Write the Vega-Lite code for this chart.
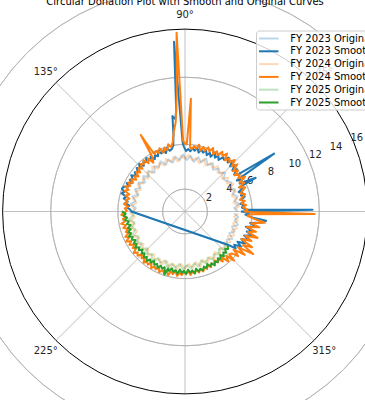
{
"$schema":"https://vega.github.io/schema/vega-lite/v6.json",
"width":365,"height":400,"autosize":{"type":"none"},"padding":0,"background":"white",
"config":{"view":{"stroke":null},"font":"DejaVu Sans",
"legend":{"orient":"none","legendX":256,"legendY":30.5,"title":null,"symbolType":"M-1.95,0H1.95","symbolSize":100,"symbolStrokeWidth":2,"symbolOffset":4.75,"labelFont":"DejaVu Sans","labelFontSize":10,"labelColor":"#000000","fillColor":"rgba(255,255,255,0.8)","strokeColor":"#cccccc","cornerRadius":3,"padding":2,"rowPadding":1.8,"labelOffset":15.5}},
"datasets":{"lines":[
{"s":"FY 2023 Original","a":0,"r":4.7},{"s":"FY 2023 Original","a":4,"r":4.4},{"s":"FY 2023 Original","a":8,"r":4.9},{"s":"FY 2023 Original","a":12,"r":4.5},{"s":"FY 2023 Original","a":16,"r":4.9},{"s":"FY 2023 Original","a":20,"r":4.5},{"s":"FY 2023 Original","a":24,"r":4.9},{"s":"FY 2023 Original","a":28,"r":4.4},{"s":"FY 2023 Original","a":32,"r":4.9},{"s":"FY 2023 Original","a":36,"r":4.6},{"s":"FY 2023 Original","a":40,"r":4.5},{"s":"FY 2023 Original","a":44,"r":5.0},{"s":"FY 2023 Original","a":48,"r":4.6},{"s":"FY 2023 Original","a":52,"r":4.9},{"s":"FY 2023 Original","a":56,"r":4.5},{"s":"FY 2023 Original","a":60,"r":5.0},{"s":"FY 2023 Original","a":64,"r":4.6},{"s":"FY 2023 Original","a":68,"r":5.1},{"s":"FY 2023 Original","a":72,"r":4.6},{"s":"FY 2023 Original","a":76,"r":5.0},{"s":"FY 2023 Original","a":80,"r":4.5},{"s":"FY 2023 Original","a":84,"r":5.0},{"s":"FY 2023 Original","a":88,"r":4.6},{"s":"FY 2023 Original","a":92,"r":5.1},{"s":"FY 2023 Original","a":96,"r":4.6},{"s":"FY 2023 Original","a":100,"r":5.0},{"s":"FY 2023 Original","a":104,"r":4.5},{"s":"FY 2023 Original","a":108,"r":4.9},{"s":"FY 2023 Original","a":112,"r":4.5},{"s":"FY 2023 Original","a":116,"r":5.0},{"s":"FY 2023 Original","a":120,"r":4.6},{"s":"FY 2023 Original","a":124,"r":4.9},{"s":"FY 2023 Original","a":128,"r":4.4},{"s":"FY 2023 Original","a":132,"r":4.9},{"s":"FY 2023 Original","a":136,"r":4.5},{"s":"FY 2023 Original","a":140,"r":4.9},{"s":"FY 2023 Original","a":144,"r":4.4},{"s":"FY 2023 Original","a":148,"r":4.9},{"s":"FY 2023 Original","a":152,"r":4.5},{"s":"FY 2023 Original","a":156,"r":4.9},{"s":"FY 2023 Original","a":160,"r":4.4},{"s":"FY 2023 Original","a":164,"r":4.9},{"s":"FY 2023 Original","a":168,"r":4.5},{"s":"FY 2023 Original","a":172,"r":4.9},{"s":"FY 2023 Original","a":176,"r":4.4},{"s":"FY 2023 Original","a":180,"r":4.7},{"s":"FY 2023 Original","a":322,"r":4.8},{"s":"FY 2023 Original","a":326,"r":4.5},{"s":"FY 2023 Original","a":330,"r":4.9},{"s":"FY 2023 Original","a":334,"r":4.4},{"s":"FY 2023 Original","a":338,"r":4.8},{"s":"FY 2023 Original","a":342,"r":4.4},{"s":"FY 2023 Original","a":346,"r":4.9},{"s":"FY 2023 Original","a":350,"r":4.5},{"s":"FY 2023 Original","a":354,"r":4.8},{"s":"FY 2023 Original","a":358,"r":4.4},
{"s":"FY 2023 Smoothed","a":0,"r":5.0},{"s":"FY 2023 Smoothed","a":0.8,"r":11.4},{"s":"FY 2023 Smoothed","a":2,"r":5.4},{"s":"FY 2023 Smoothed","a":4,"r":5.1},{"s":"FY 2023 Smoothed","a":6,"r":5.3},{"s":"FY 2023 Smoothed","a":8,"r":5.0},{"s":"FY 2023 Smoothed","a":10,"r":5.4},{"s":"FY 2023 Smoothed","a":12,"r":5.1},{"s":"FY 2023 Smoothed","a":14,"r":5.5},{"s":"FY 2023 Smoothed","a":16,"r":5.2},{"s":"FY 2023 Smoothed","a":18,"r":5.4},{"s":"FY 2023 Smoothed","a":20,"r":5.1},{"s":"FY 2023 Smoothed","a":22,"r":5.6},{"s":"FY 2023 Smoothed","a":24,"r":5.3},{"s":"FY 2023 Smoothed","a":25.5,"r":7.0},{"s":"FY 2023 Smoothed","a":27,"r":5.5},{"s":"FY 2023 Smoothed","a":29,"r":5.8},{"s":"FY 2023 Smoothed","a":31,"r":5.4},{"s":"FY 2023 Smoothed","a":33,"r":9.5},{"s":"FY 2023 Smoothed","a":35,"r":5.8},{"s":"FY 2023 Smoothed","a":37,"r":5.5},{"s":"FY 2023 Smoothed","a":39,"r":6.0},{"s":"FY 2023 Smoothed","a":41,"r":5.6},{"s":"FY 2023 Smoothed","a":43,"r":6.1},{"s":"FY 2023 Smoothed","a":45,"r":5.7},{"s":"FY 2023 Smoothed","a":47,"r":6.2},{"s":"FY 2023 Smoothed","a":49,"r":5.8},{"s":"FY 2023 Smoothed","a":51,"r":6.2},{"s":"FY 2023 Smoothed","a":53,"r":5.8},{"s":"FY 2023 Smoothed","a":55,"r":5.9},{"s":"FY 2023 Smoothed","a":57,"r":5.5},{"s":"FY 2023 Smoothed","a":59,"r":5.8},{"s":"FY 2023 Smoothed","a":61,"r":5.5},{"s":"FY 2023 Smoothed","a":63,"r":5.9},{"s":"FY 2023 Smoothed","a":65,"r":5.4},{"s":"FY 2023 Smoothed","a":67,"r":5.7},{"s":"FY 2023 Smoothed","a":69,"r":5.4},{"s":"FY 2023 Smoothed","a":71,"r":5.8},{"s":"FY 2023 Smoothed","a":73,"r":5.5},{"s":"FY 2023 Smoothed","a":75,"r":5.7},{"s":"FY 2023 Smoothed","a":77,"r":5.4},{"s":"FY 2023 Smoothed","a":79,"r":5.8},{"s":"FY 2023 Smoothed","a":81,"r":5.5},{"s":"FY 2023 Smoothed","a":83,"r":5.7},{"s":"FY 2023 Smoothed","a":85,"r":5.4},{"s":"FY 2023 Smoothed","a":87,"r":5.6},{"s":"FY 2023 Smoothed","a":89,"r":5.4},{"s":"FY 2023 Smoothed","a":91,"r":5.8},{"s":"FY 2023 Smoothed","a":92,"r":6.2},{"s":"FY 2023 Smoothed","a":93.7,"r":15.2},{"s":"FY 2023 Smoothed","a":95,"r":9.0},{"s":"FY 2023 Smoothed","a":96,"r":8.3},{"s":"FY 2023 Smoothed","a":97.5,"r":8.6},{"s":"FY 2023 Smoothed","a":98.5,"r":7.0},{"s":"FY 2023 Smoothed","a":100,"r":6.0},{"s":"FY 2023 Smoothed","a":102,"r":5.7},{"s":"FY 2023 Smoothed","a":104,"r":5.6},{"s":"FY 2023 Smoothed","a":106,"r":5.9},{"s":"FY 2023 Smoothed","a":108,"r":5.5},{"s":"FY 2023 Smoothed","a":110,"r":5.8},{"s":"FY 2023 Smoothed","a":112,"r":5.6},{"s":"FY 2023 Smoothed","a":114,"r":5.9},{"s":"FY 2023 Smoothed","a":116,"r":5.5},{"s":"FY 2023 Smoothed","a":118,"r":5.7},{"s":"FY 2023 Smoothed","a":120,"r":5.4},{"s":"FY 2023 Smoothed","a":122,"r":5.8},{"s":"FY 2023 Smoothed","a":124,"r":5.5},{"s":"FY 2023 Smoothed","a":126,"r":5.9},{"s":"FY 2023 Smoothed","a":128,"r":5.6},{"s":"FY 2023 Smoothed","a":130,"r":5.8},{"s":"FY 2023 Smoothed","a":132,"r":5.5},{"s":"FY 2023 Smoothed","a":134,"r":5.9},{"s":"FY 2023 Smoothed","a":136,"r":5.6},{"s":"FY 2023 Smoothed","a":138,"r":5.8},{"s":"FY 2023 Smoothed","a":140,"r":5.5},{"s":"FY 2023 Smoothed","a":142,"r":5.7},{"s":"FY 2023 Smoothed","a":144,"r":5.4},{"s":"FY 2023 Smoothed","a":146,"r":5.8},{"s":"FY 2023 Smoothed","a":148,"r":5.5},{"s":"FY 2023 Smoothed","a":150,"r":5.7},{"s":"FY 2023 Smoothed","a":152,"r":5.4},{"s":"FY 2023 Smoothed","a":154,"r":5.8},{"s":"FY 2023 Smoothed","a":156,"r":5.5},{"s":"FY 2023 Smoothed","a":158,"r":5.9},{"s":"FY 2023 Smoothed","a":160,"r":6.0},{"s":"FY 2023 Smoothed","a":162,"r":5.7},{"s":"FY 2023 Smoothed","a":164,"r":5.9},{"s":"FY 2023 Smoothed","a":166,"r":5.4},{"s":"FY 2023 Smoothed","a":168,"r":5.6},{"s":"FY 2023 Smoothed","a":170,"r":5.2},{"s":"FY 2023 Smoothed","a":172,"r":5.4},{"s":"FY 2023 Smoothed","a":174,"r":5.0},{"s":"FY 2023 Smoothed","a":176,"r":5.2},{"s":"FY 2023 Smoothed","a":178,"r":4.9},{"s":"FY 2023 Smoothed","a":180,"r":4.8},{"s":"FY 2023 Smoothed","a":322.3,"r":4.9},{"s":"FY 2023 Smoothed","a":324,"r":5.6},{"s":"FY 2023 Smoothed","a":326,"r":5.3},{"s":"FY 2023 Smoothed","a":328,"r":5.9},{"s":"FY 2023 Smoothed","a":330,"r":5.4},{"s":"FY 2023 Smoothed","a":332,"r":6.1},{"s":"FY 2023 Smoothed","a":334,"r":5.6},{"s":"FY 2023 Smoothed","a":336,"r":6.3},{"s":"FY 2023 Smoothed","a":338,"r":5.7},{"s":"FY 2023 Smoothed","a":340,"r":6.4},{"s":"FY 2023 Smoothed","a":342,"r":5.8},{"s":"FY 2023 Smoothed","a":344,"r":6.2},{"s":"FY 2023 Smoothed","a":346,"r":5.6},{"s":"FY 2023 Smoothed","a":348,"r":6.5},{"s":"FY 2023 Smoothed","a":350,"r":5.9},{"s":"FY 2023 Smoothed","a":352,"r":7.0},{"s":"FY 2023 Smoothed","a":353.5,"r":7.3},{"s":"FY 2023 Smoothed","a":355,"r":6.0},{"s":"FY 2023 Smoothed","a":357,"r":5.4},{"s":"FY 2023 Smoothed","a":359,"r":5.8},{"s":"FY 2023 Smoothed","a":360,"r":5.0},
{"s":"FY 2024 Original","a":2,"r":4.5},{"s":"FY 2024 Original","a":6,"r":4.9},{"s":"FY 2024 Original","a":10,"r":4.4},{"s":"FY 2024 Original","a":14,"r":4.8},{"s":"FY 2024 Original","a":18,"r":4.4},{"s":"FY 2024 Original","a":22,"r":4.9},{"s":"FY 2024 Original","a":26,"r":4.5},{"s":"FY 2024 Original","a":30,"r":5.0},{"s":"FY 2024 Original","a":34,"r":4.5},{"s":"FY 2024 Original","a":38,"r":4.9},{"s":"FY 2024 Original","a":42,"r":4.4},{"s":"FY 2024 Original","a":46,"r":4.9},{"s":"FY 2024 Original","a":50,"r":4.5},{"s":"FY 2024 Original","a":54,"r":5.0},{"s":"FY 2024 Original","a":58,"r":4.6},{"s":"FY 2024 Original","a":62,"r":4.9},{"s":"FY 2024 Original","a":66,"r":4.5},{"s":"FY 2024 Original","a":70,"r":5.0},{"s":"FY 2024 Original","a":74,"r":4.5},{"s":"FY 2024 Original","a":78,"r":4.9},{"s":"FY 2024 Original","a":82,"r":4.6},{"s":"FY 2024 Original","a":86,"r":5.1},{"s":"FY 2024 Original","a":90,"r":4.7},{"s":"FY 2024 Original","a":94,"r":5.0},{"s":"FY 2024 Original","a":98,"r":4.5},{"s":"FY 2024 Original","a":102,"r":5.0},{"s":"FY 2024 Original","a":106,"r":4.6},{"s":"FY 2024 Original","a":110,"r":5.0},{"s":"FY 2024 Original","a":114,"r":4.5},{"s":"FY 2024 Original","a":118,"r":4.9},{"s":"FY 2024 Original","a":122,"r":4.5},{"s":"FY 2024 Original","a":126,"r":5.0},{"s":"FY 2024 Original","a":130,"r":4.5},{"s":"FY 2024 Original","a":134,"r":4.9},{"s":"FY 2024 Original","a":138,"r":4.4},{"s":"FY 2024 Original","a":142,"r":4.8},{"s":"FY 2024 Original","a":146,"r":4.5},{"s":"FY 2024 Original","a":150,"r":4.9},{"s":"FY 2024 Original","a":154,"r":4.4},{"s":"FY 2024 Original","a":158,"r":4.8},{"s":"FY 2024 Original","a":162,"r":4.4},{"s":"FY 2024 Original","a":166,"r":4.8},{"s":"FY 2024 Original","a":170,"r":4.4},{"s":"FY 2024 Original","a":174,"r":4.8},{"s":"FY 2024 Original","a":178,"r":4.5},{"s":"FY 2024 Original","a":182,"r":4.9},{"s":"FY 2024 Original","a":186,"r":4.5},{"s":"FY 2024 Original","a":190,"r":5.0},{"s":"FY 2024 Original","a":194,"r":4.6},{"s":"FY 2024 Original","a":198,"r":5.1},{"s":"FY 2024 Original","a":202,"r":4.6},{"s":"FY 2024 Original","a":206,"r":5.1},{"s":"FY 2024 Original","a":210,"r":4.7},{"s":"FY 2024 Original","a":214,"r":5.2},{"s":"FY 2024 Original","a":218,"r":4.7},{"s":"FY 2024 Original","a":222,"r":5.1},{"s":"FY 2024 Original","a":226,"r":4.7},{"s":"FY 2024 Original","a":230,"r":5.2},{"s":"FY 2024 Original","a":234,"r":4.7},{"s":"FY 2024 Original","a":238,"r":5.2},{"s":"FY 2024 Original","a":242,"r":4.8},{"s":"FY 2024 Original","a":246,"r":5.2},{"s":"FY 2024 Original","a":250,"r":4.7},{"s":"FY 2024 Original","a":254,"r":5.2},{"s":"FY 2024 Original","a":258,"r":4.8},{"s":"FY 2024 Original","a":262,"r":5.2},{"s":"FY 2024 Original","a":266,"r":4.7},{"s":"FY 2024 Original","a":270,"r":5.1},{"s":"FY 2024 Original","a":274,"r":4.7},{"s":"FY 2024 Original","a":278,"r":5.1},{"s":"FY 2024 Original","a":282,"r":4.6},{"s":"FY 2024 Original","a":286,"r":5.1},{"s":"FY 2024 Original","a":290,"r":4.6},{"s":"FY 2024 Original","a":294,"r":5.0},{"s":"FY 2024 Original","a":298,"r":4.6},{"s":"FY 2024 Original","a":302,"r":5.0},{"s":"FY 2024 Original","a":306,"r":4.5},{"s":"FY 2024 Original","a":310,"r":4.9},{"s":"FY 2024 Original","a":314,"r":4.5},{"s":"FY 2024 Original","a":318,"r":4.9},{"s":"FY 2024 Original","a":322,"r":4.5},{"s":"FY 2024 Original","a":326,"r":4.9},{"s":"FY 2024 Original","a":330,"r":4.4},{"s":"FY 2024 Original","a":334,"r":4.9},{"s":"FY 2024 Original","a":338,"r":4.5},{"s":"FY 2024 Original","a":342,"r":4.9},{"s":"FY 2024 Original","a":346,"r":4.4},{"s":"FY 2024 Original","a":350,"r":4.8},{"s":"FY 2024 Original","a":354,"r":4.4},{"s":"FY 2024 Original","a":358,"r":4.8},
{"s":"FY 2024 Smoothed","a":0,"r":5.3},{"s":"FY 2024 Smoothed","a":2,"r":5.6},{"s":"FY 2024 Smoothed","a":4,"r":5.2},{"s":"FY 2024 Smoothed","a":6,"r":5.5},{"s":"FY 2024 Smoothed","a":8,"r":5.1},{"s":"FY 2024 Smoothed","a":10,"r":5.4},{"s":"FY 2024 Smoothed","a":12,"r":5.0},{"s":"FY 2024 Smoothed","a":14,"r":5.3},{"s":"FY 2024 Smoothed","a":16,"r":5.6},{"s":"FY 2024 Smoothed","a":18,"r":5.2},{"s":"FY 2024 Smoothed","a":20,"r":5.5},{"s":"FY 2024 Smoothed","a":22,"r":5.8},{"s":"FY 2024 Smoothed","a":24,"r":5.3},{"s":"FY 2024 Smoothed","a":26,"r":5.9},{"s":"FY 2024 Smoothed","a":28,"r":5.5},{"s":"FY 2024 Smoothed","a":30,"r":6.2},{"s":"FY 2024 Smoothed","a":32,"r":5.6},{"s":"FY 2024 Smoothed","a":34,"r":5.9},{"s":"FY 2024 Smoothed","a":36,"r":5.5},{"s":"FY 2024 Smoothed","a":38,"r":6.0},{"s":"FY 2024 Smoothed","a":40,"r":5.6},{"s":"FY 2024 Smoothed","a":42,"r":6.3},{"s":"FY 2024 Smoothed","a":44,"r":5.8},{"s":"FY 2024 Smoothed","a":46,"r":6.4},{"s":"FY 2024 Smoothed","a":48,"r":5.9},{"s":"FY 2024 Smoothed","a":50,"r":6.2},{"s":"FY 2024 Smoothed","a":52,"r":5.8},{"s":"FY 2024 Smoothed","a":54,"r":6.4},{"s":"FY 2024 Smoothed","a":56,"r":6.0},{"s":"FY 2024 Smoothed","a":58,"r":6.3},{"s":"FY 2024 Smoothed","a":60,"r":5.8},{"s":"FY 2024 Smoothed","a":62,"r":6.1},{"s":"FY 2024 Smoothed","a":64,"r":5.7},{"s":"FY 2024 Smoothed","a":66,"r":6.2},{"s":"FY 2024 Smoothed","a":68,"r":5.8},{"s":"FY 2024 Smoothed","a":70,"r":6.1},{"s":"FY 2024 Smoothed","a":72,"r":5.7},{"s":"FY 2024 Smoothed","a":74,"r":6.0},{"s":"FY 2024 Smoothed","a":76,"r":5.6},{"s":"FY 2024 Smoothed","a":78,"r":6.1},{"s":"FY 2024 Smoothed","a":80,"r":5.7},{"s":"FY 2024 Smoothed","a":82,"r":5.9},{"s":"FY 2024 Smoothed","a":84,"r":5.6},{"s":"FY 2024 Smoothed","a":85.5,"r":5.8},{"s":"FY 2024 Smoothed","a":87,"r":10.1},{"s":"FY 2024 Smoothed","a":88.5,"r":6.0},{"s":"FY 2024 Smoothed","a":90,"r":6.1},{"s":"FY 2024 Smoothed","a":91.5,"r":6.3},{"s":"FY 2024 Smoothed","a":92.7,"r":16.0},{"s":"FY 2024 Smoothed","a":94,"r":10.5},{"s":"FY 2024 Smoothed","a":96,"r":8.0},{"s":"FY 2024 Smoothed","a":98,"r":7.2},{"s":"FY 2024 Smoothed","a":100,"r":6.3},{"s":"FY 2024 Smoothed","a":102,"r":5.9},{"s":"FY 2024 Smoothed","a":104,"r":6.2},{"s":"FY 2024 Smoothed","a":106,"r":5.7},{"s":"FY 2024 Smoothed","a":108,"r":6.0},{"s":"FY 2024 Smoothed","a":110,"r":5.6},{"s":"FY 2024 Smoothed","a":112,"r":6.1},{"s":"FY 2024 Smoothed","a":114,"r":5.7},{"s":"FY 2024 Smoothed","a":116,"r":6.0},{"s":"FY 2024 Smoothed","a":118,"r":5.8},{"s":"FY 2024 Smoothed","a":119,"r":6.5},{"s":"FY 2024 Smoothed","a":120,"r":7.9},{"s":"FY 2024 Smoothed","a":121,"r":5.6},{"s":"FY 2024 Smoothed","a":123,"r":5.2},{"s":"FY 2024 Smoothed","a":125,"r":5.8},{"s":"FY 2024 Smoothed","a":127,"r":5.4},{"s":"FY 2024 Smoothed","a":129,"r":5.9},{"s":"FY 2024 Smoothed","a":131,"r":5.6},{"s":"FY 2024 Smoothed","a":133,"r":5.8},{"s":"FY 2024 Smoothed","a":135,"r":5.4},{"s":"FY 2024 Smoothed","a":137,"r":5.7},{"s":"FY 2024 Smoothed","a":139,"r":5.3},{"s":"FY 2024 Smoothed","a":141,"r":5.6},{"s":"FY 2024 Smoothed","a":143,"r":5.2},{"s":"FY 2024 Smoothed","a":145,"r":5.5},{"s":"FY 2024 Smoothed","a":147,"r":5.2},{"s":"FY 2024 Smoothed","a":149,"r":5.6},{"s":"FY 2024 Smoothed","a":151,"r":5.3},{"s":"FY 2024 Smoothed","a":153,"r":5.7},{"s":"FY 2024 Smoothed","a":155,"r":5.4},{"s":"FY 2024 Smoothed","a":157,"r":5.8},{"s":"FY 2024 Smoothed","a":159,"r":5.4},{"s":"FY 2024 Smoothed","a":161,"r":5.7},{"s":"FY 2024 Smoothed","a":163,"r":5.2},{"s":"FY 2024 Smoothed","a":165,"r":5.5},{"s":"FY 2024 Smoothed","a":167,"r":5.1},{"s":"FY 2024 Smoothed","a":169,"r":5.4},{"s":"FY 2024 Smoothed","a":171,"r":5.2},{"s":"FY 2024 Smoothed","a":173,"r":5.5},{"s":"FY 2024 Smoothed","a":175,"r":5.1},{"s":"FY 2024 Smoothed","a":177,"r":5.4},{"s":"FY 2024 Smoothed","a":179,"r":5.2},{"s":"FY 2024 Smoothed","a":181,"r":5.4},{"s":"FY 2024 Smoothed","a":183,"r":5.7},{"s":"FY 2024 Smoothed","a":185,"r":5.3},{"s":"FY 2024 Smoothed","a":187,"r":5.6},{"s":"FY 2024 Smoothed","a":189,"r":5.4},{"s":"FY 2024 Smoothed","a":191,"r":5.8},{"s":"FY 2024 Smoothed","a":193,"r":5.4},{"s":"FY 2024 Smoothed","a":195,"r":5.7},{"s":"FY 2024 Smoothed","a":197,"r":5.3},{"s":"FY 2024 Smoothed","a":199,"r":5.6},{"s":"FY 2024 Smoothed","a":201,"r":5.4},{"s":"FY 2024 Smoothed","a":203,"r":5.8},{"s":"FY 2024 Smoothed","a":205,"r":5.5},{"s":"FY 2024 Smoothed","a":207,"r":5.9},{"s":"FY 2024 Smoothed","a":209,"r":5.5},{"s":"FY 2024 Smoothed","a":211,"r":5.8},{"s":"FY 2024 Smoothed","a":213,"r":5.4},{"s":"FY 2024 Smoothed","a":215,"r":5.7},{"s":"FY 2024 Smoothed","a":217,"r":5.5},{"s":"FY 2024 Smoothed","a":219,"r":5.9},{"s":"FY 2024 Smoothed","a":221,"r":5.6},{"s":"FY 2024 Smoothed","a":223,"r":5.8},{"s":"FY 2024 Smoothed","a":225,"r":5.4},{"s":"FY 2024 Smoothed","a":227,"r":5.7},{"s":"FY 2024 Smoothed","a":229,"r":5.5},{"s":"FY 2024 Smoothed","a":231,"r":5.9},{"s":"FY 2024 Smoothed","a":233,"r":5.6},{"s":"FY 2024 Smoothed","a":235,"r":5.8},{"s":"FY 2024 Smoothed","a":237,"r":5.5},{"s":"FY 2024 Smoothed","a":239,"r":5.9},{"s":"FY 2024 Smoothed","a":241,"r":5.6},{"s":"FY 2024 Smoothed","a":243,"r":5.8},{"s":"FY 2024 Smoothed","a":245,"r":5.5},{"s":"FY 2024 Smoothed","a":247,"r":5.9},{"s":"FY 2024 Smoothed","a":249,"r":5.6},{"s":"FY 2024 Smoothed","a":251,"r":5.8},{"s":"FY 2024 Smoothed","a":253,"r":5.5},{"s":"FY 2024 Smoothed","a":255,"r":5.9},{"s":"FY 2024 Smoothed","a":257,"r":5.5},{"s":"FY 2024 Smoothed","a":259,"r":5.7},{"s":"FY 2024 Smoothed","a":261,"r":5.4},{"s":"FY 2024 Smoothed","a":263,"r":5.8},{"s":"FY 2024 Smoothed","a":265,"r":5.5},{"s":"FY 2024 Smoothed","a":267,"r":5.7},{"s":"FY 2024 Smoothed","a":269,"r":5.4},{"s":"FY 2024 Smoothed","a":271,"r":5.6},{"s":"FY 2024 Smoothed","a":273,"r":5.3},{"s":"FY 2024 Smoothed","a":275,"r":5.7},{"s":"FY 2024 Smoothed","a":277,"r":5.4},{"s":"FY 2024 Smoothed","a":279,"r":5.6},{"s":"FY 2024 Smoothed","a":281,"r":5.3},{"s":"FY 2024 Smoothed","a":283,"r":5.6},{"s":"FY 2024 Smoothed","a":285,"r":5.3},{"s":"FY 2024 Smoothed","a":287,"r":5.6},{"s":"FY 2024 Smoothed","a":289,"r":5.3},{"s":"FY 2024 Smoothed","a":291,"r":5.5},{"s":"FY 2024 Smoothed","a":293,"r":5.2},{"s":"FY 2024 Smoothed","a":295,"r":5.5},{"s":"FY 2024 Smoothed","a":297,"r":5.2},{"s":"FY 2024 Smoothed","a":299,"r":5.4},{"s":"FY 2024 Smoothed","a":301,"r":5.1},{"s":"FY 2024 Smoothed","a":303,"r":5.4},{"s":"FY 2024 Smoothed","a":305,"r":5.2},{"s":"FY 2024 Smoothed","a":307,"r":5.6},{"s":"FY 2024 Smoothed","a":309,"r":5.3},{"s":"FY 2024 Smoothed","a":311,"r":5.9},{"s":"FY 2024 Smoothed","a":313,"r":5.4},{"s":"FY 2024 Smoothed","a":315,"r":6.2},{"s":"FY 2024 Smoothed","a":316,"r":5.5},{"s":"FY 2024 Smoothed","a":318,"r":5.6},{"s":"FY 2024 Smoothed","a":320,"r":6.2},{"s":"FY 2024 Smoothed","a":322,"r":5.5},{"s":"FY 2024 Smoothed","a":324,"r":6.6},{"s":"FY 2024 Smoothed","a":326,"r":5.7},{"s":"FY 2024 Smoothed","a":328,"r":7.2},{"s":"FY 2024 Smoothed","a":330,"r":6.0},{"s":"FY 2024 Smoothed","a":332,"r":6.8},{"s":"FY 2024 Smoothed","a":334,"r":5.6},{"s":"FY 2024 Smoothed","a":336,"r":6.5},{"s":"FY 2024 Smoothed","a":338,"r":5.8},{"s":"FY 2024 Smoothed","a":340,"r":6.9},{"s":"FY 2024 Smoothed","a":342,"r":5.9},{"s":"FY 2024 Smoothed","a":344,"r":6.6},{"s":"FY 2024 Smoothed","a":346,"r":5.7},{"s":"FY 2024 Smoothed","a":348,"r":6.8},{"s":"FY 2024 Smoothed","a":350,"r":6.0},{"s":"FY 2024 Smoothed","a":352,"r":7.2},{"s":"FY 2024 Smoothed","a":354,"r":6.2},{"s":"FY 2024 Smoothed","a":356,"r":5.6},{"s":"FY 2024 Smoothed","a":357.5,"r":5.8},{"s":"FY 2024 Smoothed","a":358.9,"r":11.6},{"s":"FY 2024 Smoothed","a":359.5,"r":6.0},{"s":"FY 2024 Smoothed","a":360,"r":5.3},
{"s":"FY 2025 Original","a":180,"r":4.8},{"s":"FY 2025 Original","a":184,"r":4.6},{"s":"FY 2025 Original","a":188,"r":5.1},{"s":"FY 2025 Original","a":192,"r":4.6},{"s":"FY 2025 Original","a":196,"r":5.0},{"s":"FY 2025 Original","a":200,"r":4.7},{"s":"FY 2025 Original","a":204,"r":5.2},{"s":"FY 2025 Original","a":208,"r":4.7},{"s":"FY 2025 Original","a":212,"r":5.1},{"s":"FY 2025 Original","a":216,"r":4.8},{"s":"FY 2025 Original","a":220,"r":5.2},{"s":"FY 2025 Original","a":224,"r":4.7},{"s":"FY 2025 Original","a":228,"r":5.1},{"s":"FY 2025 Original","a":232,"r":4.8},{"s":"FY 2025 Original","a":236,"r":5.3},{"s":"FY 2025 Original","a":240,"r":4.8},{"s":"FY 2025 Original","a":244,"r":5.1},{"s":"FY 2025 Original","a":248,"r":4.7},{"s":"FY 2025 Original","a":252,"r":5.2},{"s":"FY 2025 Original","a":256,"r":4.8},{"s":"FY 2025 Original","a":260,"r":5.1},{"s":"FY 2025 Original","a":264,"r":4.7},{"s":"FY 2025 Original","a":268,"r":5.2},{"s":"FY 2025 Original","a":272,"r":4.8},{"s":"FY 2025 Original","a":276,"r":5.1},{"s":"FY 2025 Original","a":280,"r":4.7},{"s":"FY 2025 Original","a":284,"r":5.1},{"s":"FY 2025 Original","a":288,"r":4.6},{"s":"FY 2025 Original","a":292,"r":5.0},{"s":"FY 2025 Original","a":296,"r":4.6},{"s":"FY 2025 Original","a":300,"r":5.0},{"s":"FY 2025 Original","a":304,"r":4.6},{"s":"FY 2025 Original","a":308,"r":4.9},{"s":"FY 2025 Original","a":312,"r":4.5},{"s":"FY 2025 Original","a":316,"r":4.9},{"s":"FY 2025 Original","a":320,"r":4.6},{"s":"FY 2025 Original","a":322,"r":4.8},
{"s":"FY 2025 Smoothed","a":180,"r":5.65},{"s":"FY 2025 Smoothed","a":182,"r":5.3},{"s":"FY 2025 Smoothed","a":184,"r":5.5},{"s":"FY 2025 Smoothed","a":186,"r":5.2},{"s":"FY 2025 Smoothed","a":188,"r":5.4},{"s":"FY 2025 Smoothed","a":190,"r":5.1},{"s":"FY 2025 Smoothed","a":192,"r":5.3},{"s":"FY 2025 Smoothed","a":194,"r":5.0},{"s":"FY 2025 Smoothed","a":196,"r":5.3},{"s":"FY 2025 Smoothed","a":198,"r":5.1},{"s":"FY 2025 Smoothed","a":200,"r":5.4},{"s":"FY 2025 Smoothed","a":202,"r":5.2},{"s":"FY 2025 Smoothed","a":204,"r":5.5},{"s":"FY 2025 Smoothed","a":206,"r":5.2},{"s":"FY 2025 Smoothed","a":208,"r":5.4},{"s":"FY 2025 Smoothed","a":210,"r":5.1},{"s":"FY 2025 Smoothed","a":212,"r":5.4},{"s":"FY 2025 Smoothed","a":214,"r":5.2},{"s":"FY 2025 Smoothed","a":216,"r":5.5},{"s":"FY 2025 Smoothed","a":218,"r":5.2},{"s":"FY 2025 Smoothed","a":220,"r":5.4},{"s":"FY 2025 Smoothed","a":222,"r":5.1},{"s":"FY 2025 Smoothed","a":224,"r":5.4},{"s":"FY 2025 Smoothed","a":226,"r":5.2},{"s":"FY 2025 Smoothed","a":228,"r":5.5},{"s":"FY 2025 Smoothed","a":230,"r":5.3},{"s":"FY 2025 Smoothed","a":232,"r":5.6},{"s":"FY 2025 Smoothed","a":234,"r":5.3},{"s":"FY 2025 Smoothed","a":236,"r":5.5},{"s":"FY 2025 Smoothed","a":238,"r":5.2},{"s":"FY 2025 Smoothed","a":240,"r":5.5},{"s":"FY 2025 Smoothed","a":242,"r":5.3},{"s":"FY 2025 Smoothed","a":244,"r":5.6},{"s":"FY 2025 Smoothed","a":246,"r":5.3},{"s":"FY 2025 Smoothed","a":248,"r":5.5},{"s":"FY 2025 Smoothed","a":250,"r":5.3},{"s":"FY 2025 Smoothed","a":252,"r":5.95},{"s":"FY 2025 Smoothed","a":253.5,"r":5.3},{"s":"FY 2025 Smoothed","a":255,"r":5.5},{"s":"FY 2025 Smoothed","a":257,"r":5.2},{"s":"FY 2025 Smoothed","a":259,"r":5.5},{"s":"FY 2025 Smoothed","a":261,"r":5.3},{"s":"FY 2025 Smoothed","a":263,"r":5.6},{"s":"FY 2025 Smoothed","a":265,"r":5.2},{"s":"FY 2025 Smoothed","a":267,"r":5.5},{"s":"FY 2025 Smoothed","a":269,"r":5.3},{"s":"FY 2025 Smoothed","a":271,"r":5.6},{"s":"FY 2025 Smoothed","a":273,"r":5.2},{"s":"FY 2025 Smoothed","a":275,"r":5.5},{"s":"FY 2025 Smoothed","a":277,"r":5.3},{"s":"FY 2025 Smoothed","a":279,"r":5.6},{"s":"FY 2025 Smoothed","a":281,"r":5.2},{"s":"FY 2025 Smoothed","a":283,"r":5.5},{"s":"FY 2025 Smoothed","a":285,"r":5.3},{"s":"FY 2025 Smoothed","a":287,"r":5.5},{"s":"FY 2025 Smoothed","a":289,"r":5.2},{"s":"FY 2025 Smoothed","a":291,"r":5.4},{"s":"FY 2025 Smoothed","a":293,"r":5.1},{"s":"FY 2025 Smoothed","a":295,"r":5.4},{"s":"FY 2025 Smoothed","a":297,"r":5.2},{"s":"FY 2025 Smoothed","a":299,"r":5.5},{"s":"FY 2025 Smoothed","a":301,"r":5.2},{"s":"FY 2025 Smoothed","a":303,"r":5.4},{"s":"FY 2025 Smoothed","a":305,"r":5.1},{"s":"FY 2025 Smoothed","a":307,"r":5.3},{"s":"FY 2025 Smoothed","a":309,"r":5.0},{"s":"FY 2025 Smoothed","a":311,"r":5.3},{"s":"FY 2025 Smoothed","a":313,"r":5.0},{"s":"FY 2025 Smoothed","a":315,"r":5.2},{"s":"FY 2025 Smoothed","a":317,"r":4.9},{"s":"FY 2025 Smoothed","a":319,"r":5.1},{"s":"FY 2025 Smoothed","a":321,"r":4.9},{"s":"FY 2025 Smoothed","a":322,"r":4.9}
]},
"layer":[
{"data":{"values":[{"r":2},{"r":4},{"r":6},{"r":8},{"r":10},{"r":12},{"r":14},{"r":16}]},
"mark":{"type":"arc","theta":0,"theta2":6.2832,"filled":false,"fill":null,"stroke":"#b0b0b0","strokeWidth":0.8},
"encoding":{"x":{"datum":0,"type":"quantitative","scale":{"domain":[-16.533,16.086],"nice":false,"zero":false},"axis":null},
"y":{"datum":0,"type":"quantitative","scale":{"domain":[-16.845,18.901],"nice":false,"zero":false},"axis":null},
"radius":{"field":"r","type":"quantitative","scale":{"type":"linear","domain":[0,16.3],"range":[0,182.4],"nice":false,"zero":true},"legend":null}}},
{"data":{"values":[{"a":0,"r0":0,"r":16.3},{"a":45,"r0":0,"r":16.3},{"a":90,"r0":0,"r":16.3},{"a":135,"r0":0,"r":16.3},{"a":180,"r0":0,"r":16.3},{"a":225,"r0":0,"r":16.3},{"a":270,"r0":0,"r":16.3},{"a":315,"r0":0,"r":16.3}]},
"transform":[{"calculate":"datum.r0*cos(datum.a*PI/180)","as":"sx"},{"calculate":"datum.r0*sin(datum.a*PI/180)","as":"sy"},{"calculate":"datum.r*cos(datum.a*PI/180)","as":"ex"},{"calculate":"datum.r*sin(datum.a*PI/180)","as":"ey"}],
"mark":{"type":"rule","stroke":"#b0b0b0","strokeWidth":0.8},
"encoding":{"x":{"field":"sx","type":"quantitative","scale":{"domain":[-16.533,16.086],"nice":false,"zero":false},"axis":null},
"y":{"field":"sy","type":"quantitative","scale":{"domain":[-16.845,18.901],"nice":false,"zero":false},"axis":null},
"x2":{"field":"ex"},"y2":{"field":"ey"}}},
{"data":{"values":[{"r":16.3}]},
"mark":{"type":"arc","theta":0,"theta2":6.2832,"filled":false,"fill":null,"stroke":"#000000","strokeWidth":1},
"encoding":{"x":{"datum":0,"type":"quantitative","scale":{"domain":[-16.533,16.086],"nice":false,"zero":false},"axis":null},
"y":{"datum":0,"type":"quantitative","scale":{"domain":[-16.845,18.901],"nice":false,"zero":false},"axis":null},
"radius":{"field":"r","type":"quantitative","scale":{"type":"linear","domain":[0,16.3],"range":[0,182.4],"nice":false,"zero":true},"legend":null}}},
{"data":{"values":[{"v":2,"t":"2"},{"v":4,"t":"4"},{"v":6,"t":"6"},{"v":8,"t":"8"},{"v":10,"t":"10"},{"v":12,"t":"12"},{"v":14,"t":"14"},{"v":16,"t":"16"}]},
"transform":[{"calculate":"datum.v*cos(22.5*PI/180)","as":"x"},{"calculate":"datum.v*sin(22.5*PI/180)","as":"y"}],
"mark":{"type":"text","align":"left","baseline":"bottom","fontSize":10,"color":"#262626","font":"DejaVu Sans"},
"encoding":{"x":{"field":"x","type":"quantitative","scale":{"domain":[-16.533,16.086],"nice":false,"zero":false},"axis":null},
"y":{"field":"y","type":"quantitative","scale":{"domain":[-16.845,18.901],"nice":false,"zero":false},"axis":null},
"text":{"field":"t"}}},
{"data":{"values":[{"a":0,"t":"0°","r":17.6},{"a":45,"t":"45°","r":17.6},{"a":90,"t":"90°","r":17.6},{"a":135,"t":"135°","r":17.6},{"a":180,"t":"180°","r":17.6},{"a":225,"t":"225°","r":17.6},{"a":270,"t":"270°","r":17.6},{"a":315,"t":"315°","r":17.6}]},
"transform":[{"calculate":"datum.r*cos(datum.a*PI/180)","as":"x"},{"calculate":"datum.r*sin(datum.a*PI/180)","as":"y"}],
"mark":{"type":"text","align":"center","baseline":"middle","fontSize":10,"color":"#262626","font":"DejaVu Sans"},
"encoding":{"x":{"field":"x","type":"quantitative","scale":{"domain":[-16.533,16.086],"nice":false,"zero":false},"axis":null},
"y":{"field":"y","type":"quantitative","scale":{"domain":[-16.845,18.901],"nice":false,"zero":false},"axis":null},
"text":{"field":"t"}}},
{"data":{"values":[{"t":"Circular Donation Plot with Smooth and Original Curves"}]},
"mark":{"type":"text","align":"center","baseline":"alphabetic","fontSize":10,"color":"#000000","font":"DejaVu Sans"},
"encoding":{"x":{"datum":0,"type":"quantitative","scale":{"domain":[-16.533,16.086],"nice":false,"zero":false},"axis":null},
"y":{"datum":18.41,"type":"quantitative","scale":{"domain":[-16.845,18.901],"nice":false,"zero":false},"axis":null},
"text":{"field":"t"}}},
{"data":{"name":"lines"},
"transform":[{"filter":"indexof(datum.s,'Original')>=0"},{"calculate":"datum.r*cos(datum.a*PI/180)","as":"x"},{"calculate":"datum.r*sin(datum.a*PI/180)","as":"y"}],
"mark":{"type":"line","interpolate":"linear","strokeJoin":"round","strokeWidth":1.8},
"encoding":{"x":{"field":"x","type":"quantitative","scale":{"domain":[-16.533,16.086],"nice":false,"zero":false},"axis":null},
"y":{"field":"y","type":"quantitative","scale":{"domain":[-16.845,18.901],"nice":false,"zero":false},"axis":null},
"order":{"field":"a","type":"quantitative"},
"color":{"field":"s","type":"nominal","scale":{"domain":["FY 2023 Original","FY 2023 Smoothed","FY 2024 Original","FY 2024 Smoothed","FY 2025 Original","FY 2025 Smoothed"],"range":["rgba(31,119,180,0.3)","#1f77b4","rgba(255,127,14,0.3)","#ff7f0e","rgba(44,160,44,0.3)","#2ca02c"]},"legend":{"title":null}}}},
{"data":{"name":"lines"},
"transform":[{"filter":"indexof(datum.s,'Smoothed')>=0"},{"calculate":"datum.r*cos(datum.a*PI/180)","as":"x"},{"calculate":"datum.r*sin(datum.a*PI/180)","as":"y"}],
"mark":{"type":"line","interpolate":"linear","strokeJoin":"round","strokeWidth":2},
"encoding":{"x":{"field":"x","type":"quantitative","scale":{"domain":[-16.533,16.086],"nice":false,"zero":false},"axis":null},
"y":{"field":"y","type":"quantitative","scale":{"domain":[-16.845,18.901],"nice":false,"zero":false},"axis":null},
"order":{"field":"a","type":"quantitative"},
"color":{"field":"s","type":"nominal","scale":{"domain":["FY 2023 Original","FY 2023 Smoothed","FY 2024 Original","FY 2024 Smoothed","FY 2025 Original","FY 2025 Smoothed"],"range":["rgba(31,119,180,0.3)","#1f77b4","rgba(255,127,14,0.3)","#ff7f0e","rgba(44,160,44,0.3)","#2ca02c"]},"legend":{"title":null}}}}
]}
